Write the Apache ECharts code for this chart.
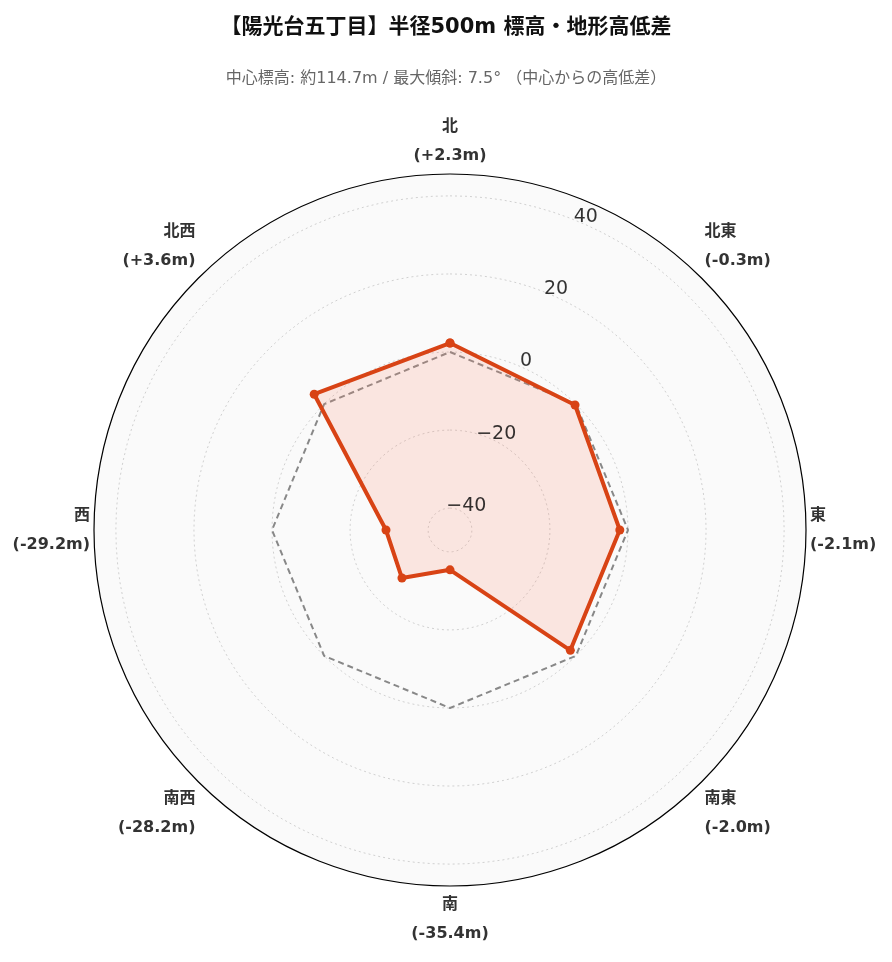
<!DOCTYPE html>
<html>
<head>
<meta charset="utf-8">
<script src="https://cdn.jsdelivr.net/npm/echarts@6/dist/echarts.min.js"></script>
<style>html,body{margin:0;padding:0;background:#fff;}#chart{width:892px;height:962px;}</style>
</head>
<body>
<div id="chart"></div>
<script>
var directions = ['北', '北東', '東', '南東', '南', '南西', '西', '北西'];
var diffs = [2.3, -0.3, -2.1, -2.0, -35.4, -28.2, -29.2, 3.6];
var diffLabels = ['+2.3m', '-0.3m', '-2.1m', '-2.0m', '-35.4m', '-28.2m', '-29.2m', '+3.6m'];
var radialTicks = [-40, -20, 0, 20, 40];

var FONT = '"DejaVu Sans", "Noto Sans CJK JP", sans-serif';
var myChart = echarts.init(document.getElementById('chart'));

// 方角 -> 角度
var dataPts = diffs.map(function (v, i) { return [v, i * 45]; });
dataPts.push([diffs[0], 360]);
var zeroPts = directions.map(function (d, i) { return [0, i * 45]; });
zeroPts.push([0, 360]);

// 目盛りの円
var gridSeries = radialTicks.map(function (t) {
    var pts = [];
    for (var a = 0; a <= 360; a += 3) pts.push([t, a]);
    return {
        type: 'line', coordinateSystem: 'polar', data: pts, symbol: 'none', silent: true,
        lineStyle: { color: '#d0d0d0', width: 1, type: [2, 3] }, z: 1
    };
});

var option = {
    title: [{
        text: '【陽光台五丁目】半径500m 標高・地形高低差',
        left: 'center', top: 12,
        textStyle: { fontSize: 21, fontWeight: 'bold', color: '#111', fontFamily: FONT }
    }, {
        text: '中心標高: 約114.7m / 最大傾斜: 7.5° （中心からの高低差）',
        left: 'center', top: 66,
        textStyle: { fontSize: 16, fontWeight: 'normal', color: '#666', fontFamily: FONT }
    }],
    polar: { center: [450, 530], radius: 356 },
    angleAxis: {
        type: 'value', min: 0, max: 360, interval: 45, startAngle: 90, clockwise: true,
        axisLine: { lineStyle: { color: '#000', width: 1.2 } },
        axisTick: { show: false },
        splitLine: { lineStyle: { color: '#d8d8d8', type: [2, 3] } },
        splitArea: { show: true, areaStyle: { color: ['#fafafa'] } },
        axisLabel: {
            margin: 4,
            fontSize: 16, fontWeight: 'bold', color: '#333', lineHeight: 29,
            fontFamily: FONT,
            formatter: function (v) {
                var i = Math.round(v / 45);
                if (i >= 8) return '';
                return directions[i] + '\n(' + diffLabels[i] + ')';
            }
        }
    },
    radiusAxis: {
        type: 'value', min: -45.6, max: 45.6,
        axisLine: { show: false }, axisTick: { show: false },
        axisLabel: { show: false }, splitLine: { show: false }
    },
    series: gridSeries.concat([{
        type: 'line', coordinateSystem: 'polar', data: zeroPts, symbol: 'none', silent: true,
        lineStyle: { color: '#888', width: 2, type: [6, 4] }, z: 3
    }, {
        type: 'line', coordinateSystem: 'polar', data: dataPts,
        symbol: 'circle', symbolSize: 9,
        itemStyle: { color: '#d84315' },
        lineStyle: { color: '#d84315', width: 4 },
        areaStyle: { color: 'rgba(250,128,100,0.25)', origin: 'start' },
        z: 4
    }, {
        type: 'scatter', coordinateSystem: 'polar', symbolSize: 0, silent: true,
        data: radialTicks.map(function (t) { return [t, 22.5]; }),
        label: {
            show: true, position: 'inside', offset: [8, -4], fontSize: 19, color: '#000',
            fontFamily: 'DejaVu Sans',
            formatter: function (p) { return String(p.value[0]).replace('-', '−'); }
        },
        z: 5
    }])
};
myChart.setOption(option);
</script>
</body>
</html>
